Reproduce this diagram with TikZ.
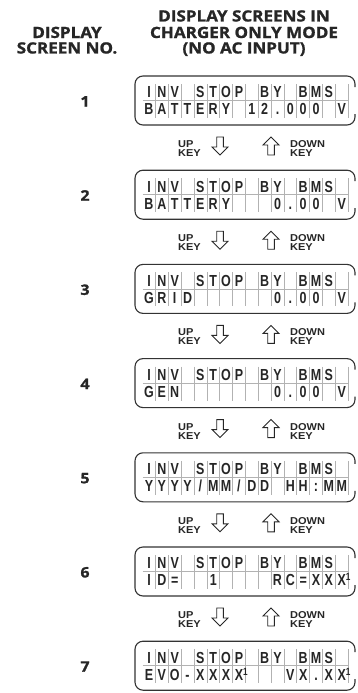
\documentclass[tikz,border=0pt]{standalone}
\usepackage{fontspec}
\newfontfamily\hdrfont[FakeStretch=1.1, BoldFeatures={FakeBold=1.2}]{Open Sans}
\newfontfamily\lcdfont[FakeStretch=0.78]{Liberation Sans}
\newfontfamily\keyfont[FakeStretch=1.1]{Liberation Sans}
\newcommand\xsup{X\rlap{\raisebox{5pt}{\fontsize{10.5}{10.5}\selectfont 1}}}
\def\rowone{I,N,V,{},S,T,O,P,{},B,Y,{},B,M,S,{}}
\tikzset{
  lcdchar/.style={font=\lcdfont\bfseries\fontsize{16}{16}\selectfont, text=black!85, inner sep=0pt, anchor=base},
  cellsep/.style={draw=black!30, line width=0.7pt},
  screenbox/.style={draw=black!80, line width=1.1pt, rounded corners=8pt},
  keylbl/.style={font=\keyfont\bfseries\fontsize{10}{10}\selectfont, text=black!85, inner sep=0pt, anchor=base west, text height=7.3pt, text depth=0pt},
  hdr/.style={font=\hdrfont\bfseries\fontsize{15.5}{15.5}\selectfont, text=black!85, inner sep=0pt, anchor=base},
  numlbl/.style={font=\hdrfont\bfseries\fontsize{14.5}{14.5}\selectfont, text=black!85, inner sep=0pt, anchor=base},
  keyarrow/.style={draw=black!85, line width=0.9pt, fill=white, line join=miter}
}
\newcommand\lcdscreen[3]{%
  \pgfmathsetmacro\rr{#2}%
  \draw[screenbox] (355,\rr-5) -- (355,\rr-16) -- (135,\rr-16) -- (135,\rr+33) -- (355,\rr+33) -- (355,\rr+22);
  \draw[cellsep] (142.6,\rr+8.5) -- (348.2,\rr+8.5);
  \foreach \k in {1,...,16}{\draw[cellsep] (142.6+12.85*\k,\rr-8) -- (142.6+12.85*\k,\rr+26);}
  \foreach \c [count=\i] in \rowone {\node[lcdchar] (s#1a\i) at (149+12.85*\i-12.85,\rr+5.8) {\c};}
  \foreach \c [count=\i] in {#3} {\node[lcdchar] (s#1b\i) at (149+12.85*\i-12.85,\rr+22.8) {\c};}
  \node[numlbl] (num#1) at (85,\rr+14.5) {#1};
}
\newcommand\keyrow[2]{%
  \pgfmathsetmacro\cc{#2}%
  \node[keylbl] (up#1) at (178,\cc+1) {UP};
  \node[keylbl] (upkey#1) at (178,\cc+10) {KEY};
  \node[keylbl] (down#1) at (290,\cc+1) {DOWN};
  \node[keylbl] (downkey#1) at (290,\cc+10) {KEY};
  \draw[keyarrow] (216.7,\cc-9.5) -- (223.3,\cc-9.5) -- (223.3,\cc+0.5) -- (228,\cc+0.5) -- (220,\cc+8.5) -- (212,\cc+0.5) -- (216.7,\cc+0.5) -- cycle;
  \draw[keyarrow] (267.7,\cc+8.5) -- (274.3,\cc+8.5) -- (274.3,\cc-1.5) -- (279,\cc-1.5) -- (271,\cc-9.5) -- (263,\cc-1.5) -- (267.7,\cc-1.5) -- cycle;
}
\begin{document}
\begin{tikzpicture}[x=1pt,y=-1pt]
\useasboundingbox (0,0) rectangle (357,693);
\node[hdr] (hl1) at (67,38) {DISPLAY};
\node[hdr] (hl2) at (67,53.5) {SCREEN NO.};
\node[hdr] (hr1) at (244,21.5) {DISPLAY SCREENS IN};
\node[hdr] (hr2) at (244,38) {CHARGER ONLY MODE};
\node[hdr] (hr3) at (244,53.5) {(NO AC INPUT)};
\lcdscreen{1}{92}{B,A,T,T,E,R,Y,{},1,2,.,0,0,0,{},V}
\keyrow{1}{92+54.5}
\lcdscreen{2}{92+94.2}{B,A,T,T,E,R,Y,{},{},{},0,.,0,0,{},V}
\keyrow{2}{92+94.2+54.5}
\lcdscreen{3}{92+2*94.2}{G,R,I,D,{},{},{},{},{},{},0,.,0,0,{},V}
\keyrow{3}{92+2*94.2+54.5}
\lcdscreen{4}{92+3*94.2}{G,E,N,{},{},{},{},{},{},{},0,.,0,0,{},V}
\keyrow{4}{92+3*94.2+54.5}
\lcdscreen{5}{92+4*94.2}{Y,Y,Y,Y,/,M,M,/,D,D,{},H,H,:,M,M}
\keyrow{5}{92+4*94.2+54.5}
\lcdscreen{6}{92+5*94.2}{I,D,=,{},{},1,{},{},{},{},R,C,=,X,X,\xsup}
\keyrow{6}{92+5*94.2+54.5}
\lcdscreen{7}{92+6*94.2}{E,V,O,-,X,X,X,\xsup,{},{},{},V,X,.,X,\xsup}
\end{tikzpicture}
\end{document}
